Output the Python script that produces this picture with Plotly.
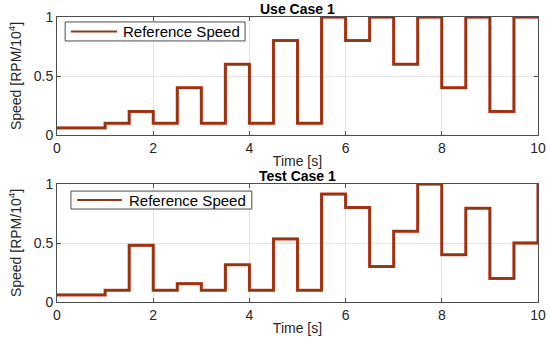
import plotly.graph_objects as go

# Step times (s) and values (RPM/10^4)
t_steps = [0, 1, 1.5, 2, 2.5, 3, 3.5, 4, 4.5, 5, 5.5, 6, 6.5, 7, 7.5, 8, 8.5, 9, 9.5, 10]
use_case = [0.06, 0.1, 0.2, 0.1, 0.4, 0.1, 0.6, 0.1, 0.8, 0.1, 1.0, 0.8, 1.0, 0.6, 1.0, 0.4, 1.0, 0.2, 1.0, 1.0]
test_case = [0.06, 0.1, 0.48, 0.1, 0.155, 0.1, 0.315, 0.1, 0.535, 0.1, 0.915, 0.8, 0.3, 0.6, 1.0, 0.4, 0.795, 0.2, 0.5, 1.0]

titles = ["Use Case 1", "Test Case 1"]
x_ticks = [0, 2, 4, 6, 8, 10]
y_ticks = [0, 0.5, 1]
legend_label = "Reference Speed"

RED = "#e0301e"
BROWN = "#8a3a12"
AX = "#4d4d4d"
TXT = "#262626"
FONT = "Liberation Sans, Arial, sans-serif"

fig = go.Figure()

domains = [[0.586, 1.0], [0.0, 0.414]]
series = [use_case, test_case]

for i, vals in enumerate(series):
    xa = "x" if i == 0 else "x2"
    ya = "y" if i == 0 else "y2"
    fig.add_trace(go.Scatter(x=t_steps, y=vals, mode="lines", line=dict(color=RED, width=3.0, shape="hv"),
                             xaxis=xa, yaxis=ya, showlegend=False, hoverinfo="skip"))
    fig.add_trace(go.Scatter(x=t_steps, y=vals, mode="lines", line=dict(color=BROWN, width=2.3, shape="hv"),
                             xaxis=xa, yaxis=ya, showlegend=False, name=legend_label))

axis_common = dict(showline=True, linecolor=AX, linewidth=1, mirror="ticks", ticks="inside",
                   ticklen=4, tickcolor=AX, showgrid=True, gridcolor="#e3e3e3", gridwidth=1,
                   zeroline=False, automargin=False, tickfont=dict(family=FONT, size=14, color=TXT))
xtitle = dict(text="Time [s]", font=dict(family=FONT, size=14, color=TXT), standoff=1)
ytitle = dict(text="Speed [RPM/10<sup>4</sup>]", font=dict(family=FONT, size=14, color=TXT), standoff=8)

fig.update_layout(
    width=550, height=339, margin=dict(l=57, r=12, t=17, b=37),
    paper_bgcolor="white", plot_bgcolor="white",
    showlegend=False,
    xaxis=dict(domain=[0, 1], range=[0, 10], tickvals=x_ticks, anchor="y", title=xtitle, **axis_common),
    yaxis=dict(domain=domains[0], range=[0, 1], tickvals=y_ticks, ticktext=["0", "0.5", "1"], anchor="x",
               title=ytitle, **axis_common),
    xaxis2=dict(domain=[0, 1], range=[0, 10], tickvals=x_ticks, anchor="y2", title=xtitle, **axis_common),
    yaxis2=dict(domain=domains[1], range=[0, 1], tickvals=y_ticks, ticktext=["0", "0.5", "1"], anchor="x2",
                title=ytitle, **axis_common),
)

# Titles
for title, dom in zip(titles, domains):
    fig.add_annotation(text="<b>" + title + "</b>", x=0.5, xref="paper", y=dom[1], yref="paper",
                       yanchor="bottom", showarrow=False, yshift=-2,
                       font=dict(family=FONT, size=14, color="#000000"))

# Legends drawn inside each axes
legend_boxes = [
    dict(x0=0.17, x1=3.91, y0=0.797, y1=0.958, lx0=0.29, lx1=1.25, tx=1.33),
    dict(x0=0.29, x1=4.05, y0=0.788, y1=0.94, lx0=0.42, lx1=1.35, tx=1.46),
]
for i, b in enumerate(legend_boxes):
    xr = "x" if i == 0 else "x2"
    yr = "y" if i == 0 else "y2"
    fig.add_shape(type="rect", xref=xr, yref=yr, x0=b["x0"], x1=b["x1"], y0=b["y0"], y1=b["y1"],
                  line=dict(color=AX, width=1), fillcolor="white", layer="above")
    ym = (b["y0"] + b["y1"]) / 2
    fig.add_shape(type="line", xref=xr, yref=yr, x0=b["lx0"], x1=b["lx1"], y0=ym, y1=ym,
                  line=dict(color=BROWN, width=2), layer="above")
    fig.add_annotation(text=legend_label, xref=xr, yref=yr, x=b["tx"], y=ym, xanchor="left",
                       yanchor="middle", showarrow=False, font=dict(family=FONT, size=15, color="#000000"))

# remove the browser's default body margin so the figure fills the window exactly
fig.write_html("out.html", config={"displayModeBar": False},
               post_script="document.body.style.margin='0px';document.body.style.overflow='hidden';")
